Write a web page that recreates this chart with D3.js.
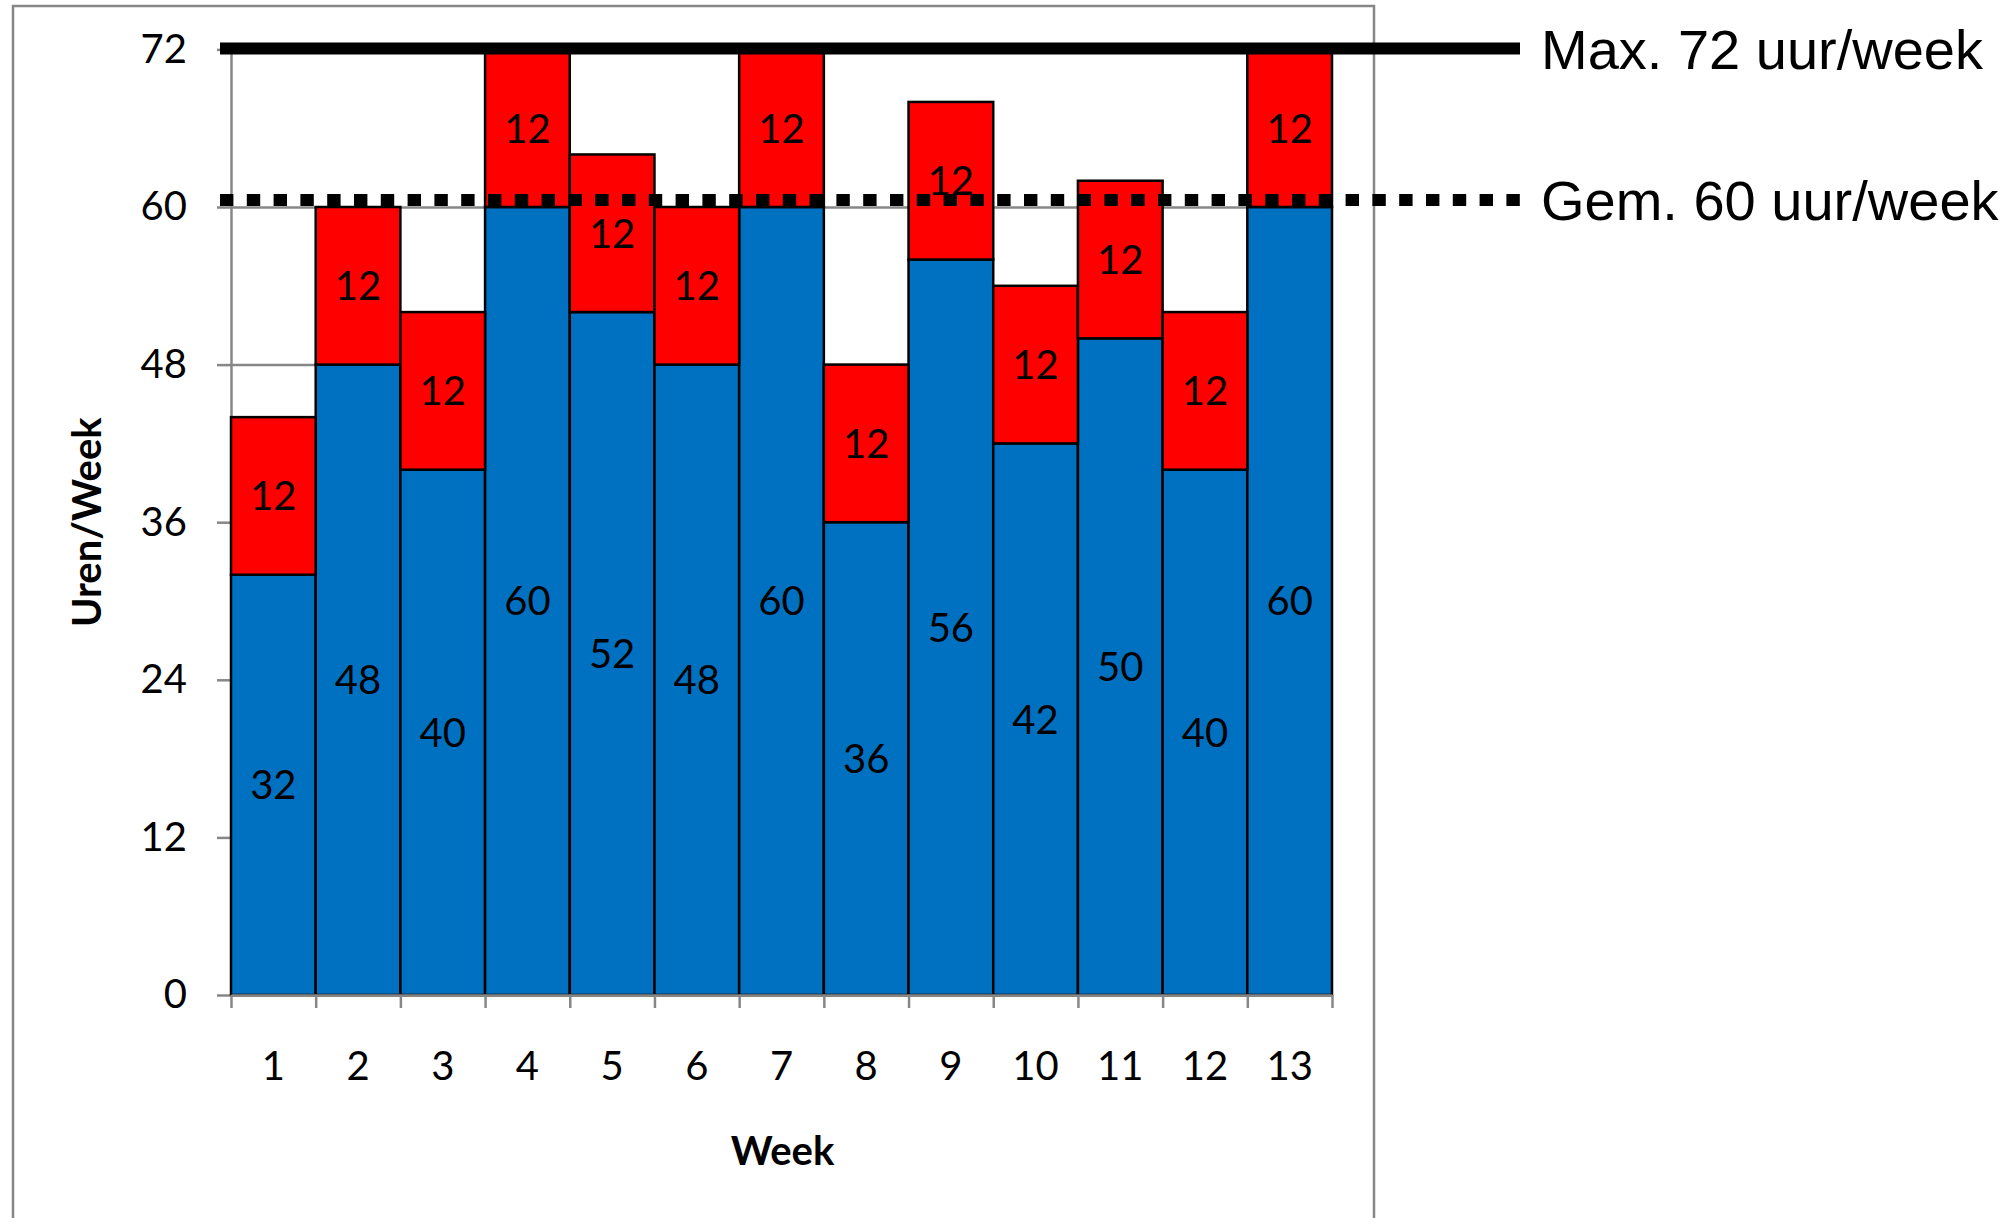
<!DOCTYPE html>
<html>
<head>
<meta charset="utf-8">
<script src="https://cdn.jsdelivr.net/npm/d3@7"></script>
<style>
    body { margin: 0; background: #fff; }
    svg { display: block; }
</style>
</head>
<body>
<svg></svg>
<script>
// data
const weeks = ["1", "2", "3", "4", "5", "6", "7", "8", "9", "10", "11", "12", "13"];
const basisUren = [32, 48, 40, 60, 52, 48, 60, 36, 56, 42, 50, 40, 60];
const extraUren = [12, 12, 12, 12, 12, 12, 12, 12, 12, 12, 12, 12, 12];
const yTicks = [0, 12, 24, 36, 48, 60, 72];
const refValues = [72, 60];
const refLabels = ["Max. 72 uur/week", "Gem. 60 uur/week"];
const yTitle = "Uren/Week";
const xTitle = "Week";

var chart = function () {
    let width = 2004
    let height = 1218
    let left = 231, right = 1332, top = 49.4, bottom = 995
    let gray = "#878787"
    let font = "Lato, 'Open Sans', sans-serif"

    const rows = weeks.map((w, i) => ({week: w, basis: basisUren[i], extra: extraUren[i]}));
    const series = d3.stack().keys(["basis", "extra"])(rows);
    const colors = {basis: "#0070C0", extra: "#FF0000"};

    const x = d3.scaleBand().domain(weeks).range([left, right]).padding(0);
    const xEdge = d3.scaleLinear().domain([0, weeks.length]).range([left, right]);
    const y = d3.scaleLinear().domain([0, 72]).range([bottom, top]);

    const svg = d3.select("svg")
        .attr("width", width)
        .attr("height", height)
        .attr("viewBox", [0, 0, width, height]);

    svg.append("rect")
        .attr("width", width).attr("height", height).attr("fill", "#fff");

    // outer chart frame
    svg.append("rect")
        .attr("x", 13).attr("y", 6)
        .attr("width", 1361).attr("height", 1230)
        .attr("fill", "none")
        .attr("stroke", gray)
        .attr("stroke-width", 2.5);

    // gridlines
    svg.append("g")
        .attr("transform", `translate(${left},0)`)
        .call(d3.axisLeft(y).tickValues(yTicks).tickSize(-(right - left)).tickFormat(""))
        .call(g => g.select(".domain").remove())
        .call(g => g.selectAll("line").attr("stroke", gray).attr("stroke-width", 2.5));

    // y axis
    svg.append("g")
        .attr("transform", `translate(${left},0)`)
        .call(d3.axisLeft(y).tickValues(yTicks).tickSize(14).tickSizeOuter(0).tickPadding(30))
        .call(g => g.select(".domain").attr("stroke", gray).attr("stroke-width", 2.5))
        .call(g => g.selectAll("line").attr("stroke", gray).attr("stroke-width", 2.5))
        .call(g => g.selectAll("text")
            .attr("font-family", font)
            .attr("font-size", 40)
            .attr("fill", "#000"));

    // bars
    const layer = svg.append("g")
        .selectAll("g")
        .data(series)
        .join("g")
        .attr("fill", d => colors[d.key]);

    layer.selectAll("rect")
        .data(d => d)
        .join("rect")
        .attr("x", d => x(d.data.week))
        .attr("y", d => y(d[1]))
        .attr("width", x.bandwidth())
        .attr("height", d => y(d[0]) - y(d[1]))
        .attr("stroke", "#000")
        .attr("stroke-width", 2.5);

    // value labels in the segments
    layer.selectAll("text")
        .data(d => d)
        .join("text")
        .attr("x", d => x(d.data.week) + x.bandwidth() / 2)
        .attr("y", d => y((d[0] + d[1]) / 2))
        .attr("dy", "0.36em")
        .attr("text-anchor", "middle")
        .attr("font-family", font)
        .attr("font-size", 40)
        .attr("fill", "#000")
        .text(d => d[1] - d[0]);

    // x axis: ticks at the bar edges, labels at the centres
    svg.append("g")
        .attr("transform", `translate(0,${bottom})`)
        .call(d3.axisBottom(xEdge).ticks(weeks.length).tickSize(13).tickSizeOuter(0).tickFormat(""))
        .call(g => g.select(".domain").attr("stroke", gray).attr("stroke-width", 2.5))
        .call(g => g.selectAll("line").attr("stroke", gray).attr("stroke-width", 2.5));

    svg.append("g")
        .attr("transform", `translate(0,${bottom})`)
        .call(d3.axisBottom(x).tickSize(0).tickPadding(57))
        .call(g => g.select(".domain").remove())
        .call(g => g.selectAll("text")
            .attr("font-family", font)
            .attr("font-size", 40)
            .attr("fill", "#000"));

    // axis titles
    svg.append("text")
        .attr("transform", `translate(87,${(top + bottom) / 2}) rotate(-90)`)
        .attr("dy", "0.36em")
        .attr("text-anchor", "middle")
        .attr("font-family", font)
        .attr("font-weight", "bold")
        .attr("font-size", 40)
        .text(yTitle);

    svg.append("text")
        .attr("x", (left + right) / 2 + 1)
        .attr("y", 1151)
        .attr("dy", "0.36em")
        .attr("text-anchor", "middle")
        .attr("font-family", font)
        .attr("font-weight", "bold")
        .attr("font-size", 40)
        .text(xTitle);

    // reference lines: solid max, dotted average
    let lineStart = left - 11, lineEnd = 1520
    const refY = [y(refValues[0]) - 1, y(refValues[1]) - 7];

    svg.append("line")
        .attr("x1", lineStart).attr("x2", lineEnd)
        .attr("y1", refY[0]).attr("y2", refY[0])
        .attr("stroke", "#000")
        .attr("stroke-width", 12);

    svg.append("line")
        .attr("x1", lineStart).attr("x2", lineEnd)
        .attr("y1", refY[1]).attr("y2", refY[1])
        .attr("stroke", "#000")
        .attr("stroke-width", 12)
        .attr("stroke-dasharray", "13.4,13.4");

    svg.append("g")
        .selectAll("text")
        .data(refLabels)
        .join("text")
        .attr("x", 1541)
        .attr("y", (d, i) => refY[i])
        .attr("dy", "0.36em")
        .attr("font-family", "'Liberation Sans', Arial, sans-serif")
        .attr("font-size", 56)
        .attr("fill", "#000")
        .text(d => d);

    return svg.node();
}

chart();
</script>
</body>
</html>
